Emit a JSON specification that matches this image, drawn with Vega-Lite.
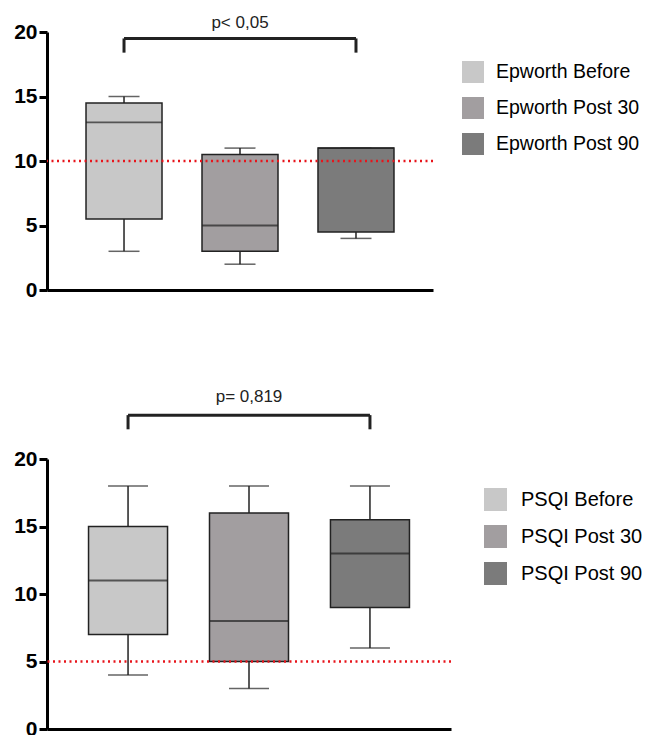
{
  "$schema": "https://vega.github.io/schema/vega-lite/v6.json",
  "background": "white",
  "padding": {"left": 13, "top": 13, "right": 0, "bottom": 0},
  "spacing": 87,
  "config": {
    "font": "Liberation Sans",
    "view": {"stroke": null},
    "axisX": {"labels": false, "ticks": false, "domainWidth": 3, "domainColor": "black", "grid": false},
    "axisY": {"labelFontSize": 21, "labelFontWeight": "bold", "labelColor": "black", "tickSize": 8, "tickWidth": 3, "tickColor": "black", "domainWidth": 3, "domainColor": "black", "grid": false, "labelPadding": 2}
  },
  "resolve": {"scale": {"fill": "independent", "x": "independent", "y": "independent"}},
  "vconcat": [
    {
      "width": 386,
      "height": 258,
      "layer": [
        {
          "data": {"values": [
            {"group": "Epworth Before", "min": 3, "q1": 5.5, "median": 13, "q3": 14.5, "max": 15},
            {"group": "Epworth Post 30", "min": 2, "q1": 3, "median": 5, "q3": 10.5, "max": 11},
            {"group": "Epworth Post 90", "min": 4, "q1": 4.5, "median": 11, "q3": 11, "max": 11}
          ]},
          "encoding": {
            "x": {"field": "group", "type": "nominal", "scale": {"type": "point", "padding": 0.664, "domain": ["Epworth Before", "Epworth Post 30", "Epworth Post 90"]}, "axis": {"title": null}}
          },
          "layer": [
            {"mark": {"type": "rule", "color": "#222", "strokeWidth": 1.5},
             "encoding": {"y": {"field": "min", "type": "quantitative", "scale": {"domain": [0, 20], "nice": false}, "axis": {"values": [0, 5, 10, 15, 20], "title": null}}, "y2": {"field": "max"}}},
            {"mark": {"type": "tick", "color": "#222", "size": 31, "thickness": 1.5, "orient": "horizontal"},
             "encoding": {"y": {"field": "min", "type": "quantitative", "title": null}}},
            {"mark": {"type": "tick", "color": "#222", "size": 31, "thickness": 1.5, "orient": "horizontal"},
             "encoding": {"y": {"field": "max", "type": "quantitative", "title": null}}},
            {"mark": {"type": "bar", "width": 76, "stroke": "#222", "strokeWidth": 1.5},
             "encoding": {
               "y": {"field": "q1", "type": "quantitative", "title": null},
               "y2": {"field": "q3"},
               "fill": {"field": "group", "type": "nominal",
                 "scale": {"domain": ["Epworth Before", "Epworth Post 30", "Epworth Post 90"], "range": ["#c8c8c8", "#a29ea0", "#7b7b7b"]},
                 "legend": {"orient": "none", "legendX": 415, "legendY": 29, "title": null, "symbolType": "square", "symbolSize": 484, "symbolStrokeWidth": 0, "labelFontSize": 19.5, "labelOffset": 12, "rowPadding": 14, "labelColor": "black", "labelLimit": 300}}
             }},
            {"mark": {"type": "tick", "color": "#222", "size": 76, "thickness": 1.8, "orient": "horizontal"},
             "encoding": {"y": {"field": "median", "type": "quantitative", "title": null}}}
          ]
        },
        {
          "data": {"values": [{"ref": 10}]},
          "mark": {"type": "rule", "color": "#e8141b", "strokeWidth": 2.5, "strokeDash": [2, 3.5]},
          "encoding": {"y": {"field": "ref", "type": "quantitative", "title": null}}
        },
        {
          "data": {"values": [{"from": "Epworth Before", "to": "Epworth Post 90", "y": 19.5}]},
          "mark": {"type": "rule", "color": "#222", "strokeWidth": 3},
          "encoding": {
            "x": {"field": "from", "type": "nominal", "axis": {"title": null}},
            "x2": {"field": "to"},
            "y": {"field": "y", "type": "quantitative", "title": null}
          }
        },
        {
          "data": {"values": [{"g": "Epworth Before", "y1": 18.4, "y2": 19.5}, {"g": "Epworth Post 90", "y1": 18.4, "y2": 19.5}]},
          "mark": {"type": "rule", "color": "#222", "strokeWidth": 3},
          "encoding": {
            "x": {"field": "g", "type": "nominal", "axis": {"title": null}},
            "y": {"field": "y1", "type": "quantitative", "title": null},
            "y2": {"field": "y2"}
          }
        },
        {
          "data": {"values": [{"g": "Epworth Post 30", "y": 20.7, "label": "p< 0,05"}]},
          "mark": {"type": "text", "fontSize": 17, "color": "#222", "baseline": "middle"},
          "encoding": {
            "x": {"field": "g", "type": "nominal", "axis": {"title": null}},
            "y": {"field": "y", "type": "quantitative", "title": null},
            "text": {"field": "label"}
          }
        }
      ]
    },
    {
      "width": 404,
      "height": 270,
      "layer": [
        {
          "data": {"values": [
            {"group": "PSQI Before", "min": 4, "q1": 7, "median": 11, "q3": 15, "max": 18},
            {"group": "PSQI Post 30", "min": 3, "q1": 5, "median": 8, "q3": 16, "max": 18},
            {"group": "PSQI Post 90", "min": 6, "q1": 9, "median": 13, "q3": 15.5, "max": 18}
          ]},
          "encoding": {
            "x": {"field": "group", "type": "nominal", "scale": {"type": "point", "padding": 0.67, "domain": ["PSQI Before", "PSQI Post 30", "PSQI Post 90"]}, "axis": {"title": null}}
          },
          "layer": [
            {"mark": {"type": "rule", "color": "#222", "strokeWidth": 1.5},
             "encoding": {"y": {"field": "min", "type": "quantitative", "scale": {"domain": [0, 20], "nice": false}, "axis": {"values": [0, 5, 10, 15, 20], "title": null}}, "y2": {"field": "max"}}},
            {"mark": {"type": "tick", "color": "#222", "size": 40, "thickness": 1.5, "orient": "horizontal"},
             "encoding": {"y": {"field": "min", "type": "quantitative", "title": null}}},
            {"mark": {"type": "tick", "color": "#222", "size": 40, "thickness": 1.5, "orient": "horizontal"},
             "encoding": {"y": {"field": "max", "type": "quantitative", "title": null}}},
            {"mark": {"type": "bar", "width": 79, "stroke": "#222", "strokeWidth": 1.5},
             "encoding": {
               "y": {"field": "q1", "type": "quantitative", "title": null},
               "y2": {"field": "q3"},
               "fill": {"field": "group", "type": "nominal",
                 "scale": {"domain": ["PSQI Before", "PSQI Post 30", "PSQI Post 90"], "range": ["#c8c8c8", "#a29ea0", "#7b7b7b"]},
                 "legend": {"orient": "none", "legendX": 437, "legendY": 29, "title": null, "symbolType": "square", "symbolSize": 529, "symbolStrokeWidth": 0, "labelFontSize": 20, "labelOffset": 14, "rowPadding": 14, "labelColor": "black", "labelLimit": 300}}
             }},
            {"mark": {"type": "tick", "color": "#222", "size": 79, "thickness": 1.8, "orient": "horizontal"},
             "encoding": {"y": {"field": "median", "type": "quantitative", "title": null}}}
          ]
        },
        {
          "data": {"values": [{"ref": 5}]},
          "mark": {"type": "rule", "color": "#e8141b", "strokeWidth": 2.5, "strokeDash": [2, 3.5]},
          "encoding": {"y": {"field": "ref", "type": "quantitative", "title": null}}
        },
        {
          "data": {"values": [{"from": "PSQI Before", "to": "PSQI Post 90", "y": 23.25}]},
          "mark": {"type": "rule", "color": "#222", "strokeWidth": 3},
          "encoding": {
            "x": {"field": "from", "type": "nominal", "axis": {"title": null}},
            "x2": {"field": "to"},
            "y": {"field": "y", "type": "quantitative", "title": null}
          }
        },
        {
          "data": {"values": [{"g": "PSQI Before", "y1": 22.2, "y2": 23.25}, {"g": "PSQI Post 90", "y1": 22.2, "y2": 23.25}]},
          "mark": {"type": "rule", "color": "#222", "strokeWidth": 3},
          "encoding": {
            "x": {"field": "g", "type": "nominal", "axis": {"title": null}},
            "y": {"field": "y1", "type": "quantitative", "title": null},
            "y2": {"field": "y2"}
          }
        },
        {
          "data": {"values": [{"g": "PSQI Post 30", "y": 24.6, "label": "p= 0,819"}]},
          "mark": {"type": "text", "fontSize": 17, "color": "#222", "baseline": "middle"},
          "encoding": {
            "x": {"field": "g", "type": "nominal", "axis": {"title": null}},
            "y": {"field": "y", "type": "quantitative", "title": null},
            "text": {"field": "label"}
          }
        }
      ]
    }
  ]
}
